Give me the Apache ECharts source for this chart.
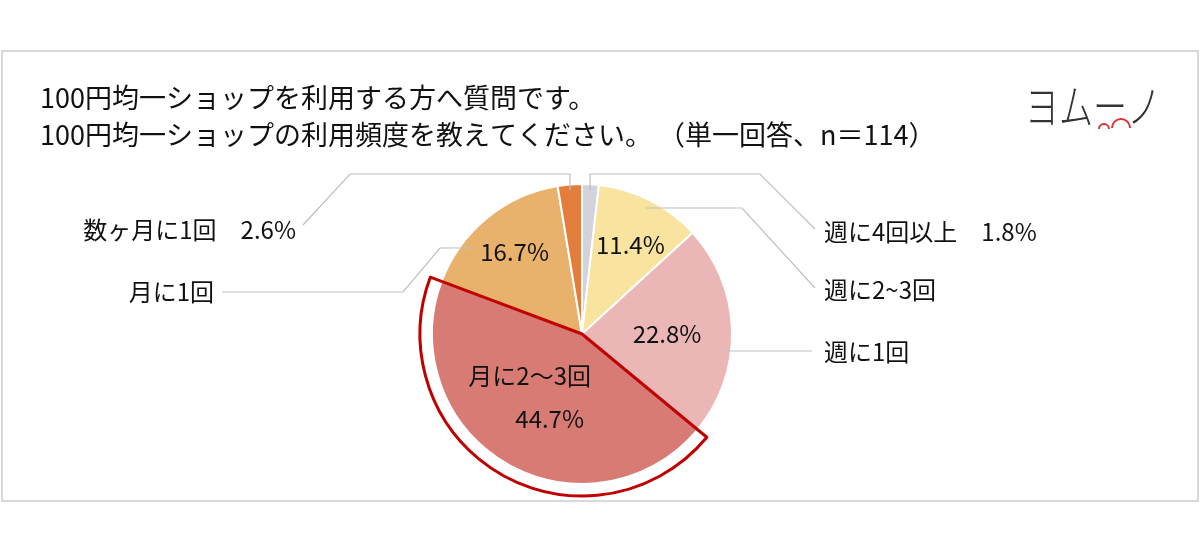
<!DOCTYPE html>
<html><head><meta charset="utf-8">
<script src="https://cdn.jsdelivr.net/npm/echarts@6/dist/echarts.min.js"></script>
<style>html,body{margin:0;padding:0;background:#fff}#c{width:1200px;height:554px}</style>
</head><body><div id="c"></div>
<script>
// ---- data ----
const categories = ['週に4回以上', '週に2~3回', '週に1回', '月に2～3回', '月に1回', '数ヶ月に1回'];
const values = [1.8, 11.4, 22.8, 44.7, 16.7, 2.6];
const colors = ['#D3D3DB', '#F8E39F', '#EBB7B6', '#D87B75', '#E9B26C', '#E27D3C'];
const titleLines = ['100円均一ショップを利用する方へ質問です。', '100円均一ショップの利用頻度を教えてください。 （単一回答、n＝114）'];
const highlightIndex = 3;          // 月に2～3回 is outlined
const innerLabelIndex = [1, 2, 3, 4];
const outerLabelIndex = [0, 1, 2, 4, 5];
const outerWithPct = [0, 5];

// ---- layout (positions/styles only) ----
const CX = 582, CY = 334, R = 150, R_OUT = 162;
const FONT = '"Noto Sans CJK JP", "Noto Sans", sans-serif';
const INNER = { 1: { f: 0.667, dx: 3, dy: 0 }, 2: { f: 0.567, dx: 0, dy: 2 }, 3: { f: 0.55, dx: -11, dy: -8 }, 4: { f: 0.707, dx: 0, dy: 0 } };
const OUTER = {
  0: { pts: [[590, 190], [590, 174], [760, 174], [815, 229]], label: [824, 232], align: 'left' },
  1: { pts: [[646, 208], [742, 208], [815, 288]], label: [824, 290], align: 'left' },
  2: { pts: [[724, 351], [812, 351]], label: [824, 352], align: 'left' },
  4: { pts: [[474, 248], [440, 248], [403, 292], [222, 292]], label: [214, 292], align: 'right' },
  5: { pts: [[570, 190], [570, 174], [350, 174], [303, 225]], label: [296, 230], align: 'right' }
};

const total = values.reduce((a, b) => a + b, 0);
const midAngles = [];
{ let acc = 0; values.forEach(v => { midAngles.push((acc + v / 2) / total * 2 * Math.PI); acc += v; }); }

const pct = v => v.toFixed(1) + '%';

const mainData = categories.map((c, i) => ({
  name: c, value: values[i],
  itemStyle: { color: colors[i] },
  label: { show: innerLabelIndex.indexOf(i) >= 0 }
}));
const outlineData = categories.map((c, i) => ({
  name: c, value: values[i],
  itemStyle: i === highlightIndex
    ? { color: 'rgba(0,0,0,0)', borderColor: '#C00000', borderWidth: 3 }
    : { color: 'rgba(0,0,0,0)', borderWidth: 0 },
  label: { show: outerLabelIndex.indexOf(i) >= 0 },
  labelLine: { show: outerLabelIndex.indexOf(i) >= 0 }
}));

const chart = echarts.init(document.getElementById('c'), null, { renderer: 'canvas' });
chart.setOption({
  backgroundColor: '#fff',
  animation: false,
  title: {
    text: titleLines.join('\n'),
    left: 35, top: 74,
    textStyle: { fontFamily: FONT, fontSize: 27, fontWeight: 'normal', color: '#111', lineHeight: 37 }
  },
  graphic: [
    { type: 'rect', z: -10, shape: { x: 2, y: 51, width: 1196, height: 450 }, style: { fill: '#fff', stroke: '#D9D9D9', lineWidth: 2 } },
    { type: 'text', x: 1025, y: 106, scaleX: 0.74, style: { text: 'ヨムーノ', font: '300 46px ' + FONT, fill: '#333', verticalAlign: 'middle' } },
    { type: 'arc', shape: { cx: 1104, cy: 129, r: 5, startAngle: Math.PI, endAngle: 2 * Math.PI, clockwise: true }, style: { stroke: '#D9343A', lineWidth: 2, fill: null } },
    { type: 'arc', shape: { cx: 1121, cy: 128, r: 9, startAngle: Math.PI, endAngle: 2 * Math.PI, clockwise: true }, style: { stroke: '#D9343A', lineWidth: 2, fill: null } }
  ],
  series: [
    {
      type: 'pie', name: 'main', silent: true,
      center: [CX, CY], radius: [0, R], startAngle: 90, clockwise: true,
      avoidLabelOverlap: false,
      itemStyle: { borderColor: '#fff', borderWidth: 2 },
      label: {
        position: 'inside', fontFamily: FONT, fontSize: 24, color: '#111',
        formatter: p => p.dataIndex === highlightIndex
          ? '{a|' + p.name + '}\n{b|' + pct(p.value) + '}'
          : pct(p.value),
        rich: {
          a: { fontFamily: FONT, fontSize: 24, color: '#111', lineHeight: 43 },
          b: { fontFamily: FONT, fontSize: 24, color: '#111', lineHeight: 43, padding: [0, 0, 0, 40] }
        }
      },
      labelLayout: p => {
        const cfg = INNER[p.dataIndex];
        if (!cfg) return {};
        const a = midAngles[p.dataIndex];
        return {
          x: CX + Math.sin(a) * R * cfg.f + cfg.dx,
          y: CY - Math.cos(a) * R * cfg.f + cfg.dy,
          align: 'center', verticalAlign: 'middle'
        };
      },
      data: mainData
    },
    {
      type: 'pie', name: 'outline', silent: true, z: 3,
      center: [CX, CY], radius: [0, R_OUT], startAngle: 90, clockwise: true,
      avoidLabelOverlap: false,
      label: {
        position: 'outside', fontFamily: FONT, fontSize: 24, color: '#111',
        formatter: p => outerWithPct.indexOf(p.dataIndex) >= 0 ? p.name + '　' + pct(p.value) : p.name
      },
      labelLine: { show: true, lineStyle: { color: '#BFBFBF', width: 1.2 } },
      labelLayout: p => {
        const cfg = OUTER[p.dataIndex];
        if (!cfg) return {};
        return {
          x: cfg.label[0], y: cfg.label[1], align: cfg.align, verticalAlign: 'middle',
          labelLinePoints: cfg.pts
        };
      },
      data: outlineData
    }
  ]
});
</script>
</body></html>
